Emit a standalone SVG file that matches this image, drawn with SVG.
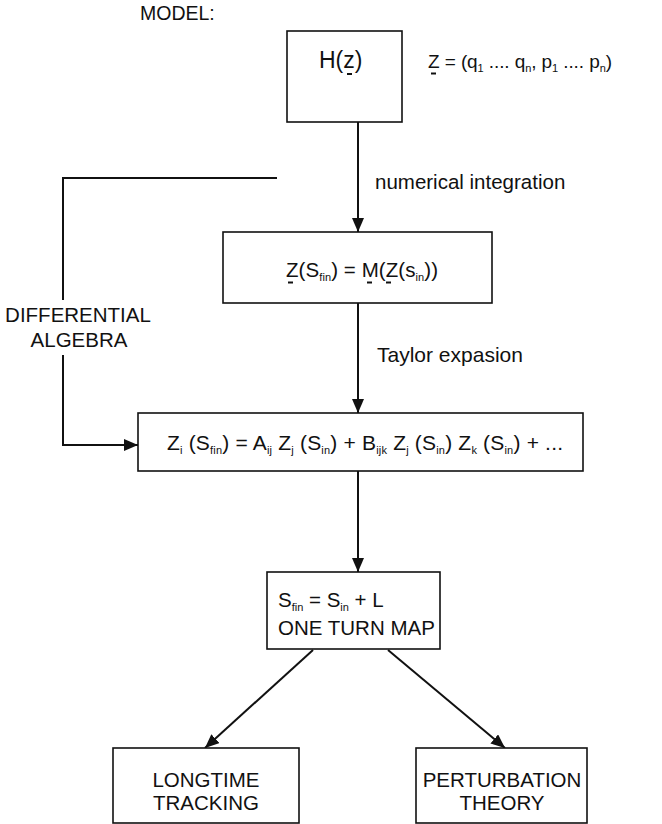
<svg xmlns="http://www.w3.org/2000/svg" width="662" height="824" viewBox="0 0 662 824">
<style>
text{font-family:"Liberation Sans",Arial,Helvetica,sans-serif;font-size:20.5px;fill:#111}
.sub{font-size:11px}
.box{fill:#fff;stroke:#111;stroke-width:1.6}
.conn{fill:none;stroke:#111;stroke-width:2}
.ul{stroke:#111;stroke-width:2}
</style>
<defs>
<marker id="ah" viewBox="0 0 14 12" refX="14" refY="6" markerWidth="14" markerHeight="12" markerUnits="userSpaceOnUse" orient="auto">
<path d="M0,0 L14,6 L0,12 z" fill="#111"/>
</marker>
</defs>
<rect width="662" height="824" fill="#fff"/>

<text id="model-label" x="140" y="20" style="font-size:19.5px">MODEL:</text>

<g id="connectors">
<line class="conn" x1="358" y1="122" x2="358" y2="232" marker-end="url(#ah)"/>
<line class="conn" x1="358" y1="303" x2="358" y2="413" marker-end="url(#ah)"/>
<line class="conn" x1="358" y1="471" x2="358" y2="572" marker-end="url(#ah)"/>
<polyline class="conn" points="277,178 63,178 63,300"/>
<polyline class="conn" points="63,355 63,445 138,445" marker-end="url(#ah)"/>
<line class="conn" x1="313" y1="650" x2="205" y2="748" marker-end="url(#ah)"/>
<line class="conn" x1="388" y1="650" x2="505" y2="748" marker-end="url(#ah)"/>
<text x="375" y="189" style="font-size:20.5px">numerical integration</text>
<text x="377" y="362" style="font-size:21px">Taylor expasion</text>
<text x="78" y="322" text-anchor="middle">DIFFERENTIAL</text>
<text x="79" y="347" text-anchor="middle">ALGEBRA</text>
</g>

<g id="node-h">
<rect class="box" x="287" y="31" width="115" height="91"/>
<text x="319" y="68" style="font-size:23px">H(z)</text>
<line class="ul" x1="347" y1="74" x2="352" y2="74"/>
</g>

<g id="z-def">
<text x="428" y="68" style="font-size:19px" textLength="184" lengthAdjust="spacing">Z = (q<tspan class="sub" dy="4">1</tspan><tspan dy="-4"> .... q</tspan><tspan class="sub" dy="4">n</tspan><tspan dy="-4">, p</tspan><tspan class="sub" dy="4">1</tspan><tspan dy="-4"> .... p</tspan><tspan class="sub" dy="4">n</tspan><tspan dy="-4">)</tspan></text>
<line class="ul" x1="431" y1="73.5" x2="436" y2="73.5"/>
</g>

<g id="node-map">
<rect class="box" x="223" y="232" width="269" height="71"/>
<text x="286" y="277" textLength="152" lengthAdjust="spacing">Z(S<tspan class="sub" dy="4">fin</tspan><tspan dy="-4">) = M(Z(s</tspan><tspan class="sub" dy="4">in</tspan><tspan dy="-4">))</tspan></text>
<line class="ul" x1="288" y1="282.5" x2="293" y2="282.5"/>
<line class="ul" x1="367" y1="282.5" x2="372" y2="282.5"/>
<line class="ul" x1="386" y1="282.5" x2="391" y2="282.5"/>
</g>

<g id="node-taylor">
<rect class="box" x="138" y="413" width="445" height="58"/>
<text x="167" y="450" style="font-size:21px" textLength="396" lengthAdjust="spacing">Z<tspan class="sub" dy="4">i</tspan><tspan dy="-4"> (S</tspan><tspan class="sub" dy="4">fin</tspan><tspan dy="-4">) = A</tspan><tspan class="sub" dy="4">ij</tspan><tspan dy="-4"> Z</tspan><tspan class="sub" dy="4">j</tspan><tspan dy="-4"> (S</tspan><tspan class="sub" dy="4">in</tspan><tspan dy="-4">) + B</tspan><tspan class="sub" dy="4">ijk</tspan><tspan dy="-4"> Z</tspan><tspan class="sub" dy="4">j</tspan><tspan dy="-4"> (S</tspan><tspan class="sub" dy="4">in</tspan><tspan dy="-4">) Z</tspan><tspan class="sub" dy="4">k</tspan><tspan dy="-4"> (S</tspan><tspan class="sub" dy="4">in</tspan><tspan dy="-4">) + ...</tspan></text>
</g>

<g id="node-oneturn">
<rect class="box" x="267" y="572" width="173" height="77"/>
<text x="278" y="607">S<tspan class="sub" dy="4">fin</tspan><tspan dy="-4"> = S</tspan><tspan class="sub" dy="4">in</tspan><tspan dy="-4"> + L</tspan></text>
<text x="278" y="635">ONE TURN MAP</text>
</g>

<g id="node-longtime">
<rect class="box" x="113" y="748" width="186" height="75"/>
<text x="206" y="787" text-anchor="middle">LONGTIME</text>
<text x="206" y="810" text-anchor="middle">TRACKING</text>
</g>

<g id="node-perturbation">
<rect class="box" x="416" y="748" width="171" height="75"/>
<text x="502" y="787" text-anchor="middle">PERTURBATION</text>
<text x="502" y="810" text-anchor="middle">THEORY</text>
</g>
</svg>
